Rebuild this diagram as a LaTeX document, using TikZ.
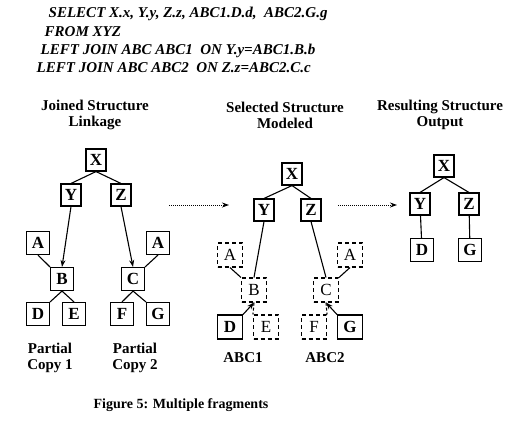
\documentclass[tikz,border=0pt]{standalone}
\usepackage{fontspec}
\setmainfont{Liberation Serif}
\usetikzlibrary{arrows.meta}

\begin{document}
\begin{tikzpicture}[x=1pt,y=-1pt,thick,
 box node/.style={draw,line width=1.1pt,inner sep=0pt,font=\fontsize{17}{17}\selectfont\bfseries,
   minimum width=23pt,minimum height=23pt},
 top node/.style={box node,minimum width=20pt,minimum height=22pt},
 ghost node/.style={box node,dashed,dash pattern=on 4pt off 3pt,font=\fontsize{17}{17}\selectfont,
   minimum width=25pt,minimum height=24pt},
 kept node/.style={box node,minimum width=25pt,minimum height=24pt},
 title/.style={font=\fontsize{15}{16}\selectfont\bfseries,align=center},
 query/.style={anchor=west,font=\fontsize{15}{15}\selectfont\bfseries\itshape},
 link/.style={line width=1.1pt},
 into/.style={link,-{Stealth[length=7pt,width=5pt]}},
 flow/.style={line width=1pt,dash pattern=on 1pt off 1pt,-{Stealth[length=7pt,width=5pt]}}]
 \useasboundingbox (0,0) rectangle (522,424);

  % query
  \node[query] (q1) at (45,14) {SELECT X.x, Y.y, Z.z, ABC1.D.d,\ \ ABC2.G.g};
  \node[query] (q2) at (41,32) {FROM XYZ};
  \node[query] (q3) at (37,51) {LEFT JOIN ABC ABC1\ \ ON Y.y=ABC1.B.b};
  \node[query] (q4) at (33,68) {LEFT JOIN ABC ABC2\ \ ON Z.z=ABC2.C.c};

  \node[title] (h1) at (95,115) {Joined Structure\\Linkage};
  \node[title] (h2) at (285,115) {Selected Structure\\Modeled};
  \node[title] (h3) at (440,115) {Resulting Structure\\Output};

  % joined
  \node[top node] (x1) at (96,160) {X};
  \node[top node] (y1) at (71,195) {Y};
  \node[top node] (z1) at (121,195) {Z};
  \node[box node] (a1) at (38,243) {A};
  \node[box node] (b1) at (62,279) {B};
  \node[box node] (a2) at (158,243) {A};
  \node[box node] (c1) at (133,279) {C};
  \node[box node] (d1) at (38,314) {D};
  \node[box node] (e1) at (74,314) {E};
  \node[box node] (f1) at (122,314) {F};
  \node[box node] (g1) at (158,314) {G};
  \node[title] (p1) at (50,358) {Partial\\Copy 1};
  \node[title] (p2) at (135,358) {Partial\\Copy 2};

  \foreach \s/\t in {x1.south/y1.north, x1.south/z1.north, a1.south/b1.north west,
    a2.south/c1.north east, b1.south/d1.north east, b1.south/e1.north,
    c1.south/f1.north, c1.south/g1.north west}
   \draw[link] (\s) -- (\t);
  \draw[into] (y1.south) -- (b1.north);
  \draw[into] (z1.south) -- (c1.north);

  % selected
  \node[top node] (x2) at (292,174) {X};
  \node[top node] (y2) at (264,210) {Y};
  \node[top node] (z2) at (311,210) {Z};
  \node[ghost node] (a3) at (230,255) {A};
  \node[ghost node] (b2) at (254,290) {B};
  \node[ghost node] (a4) at (350,255) {A};
  \node[ghost node] (c2) at (326,290) {C};
  \node[kept node] (d2) at (230,327) {D};
  \node[ghost node] (e2) at (266,327) {E};
  \node[ghost node] (f2) at (314,327) {F};
  \node[kept node] (g2) at (350,327) {G};
  \node[title] (l1) at (243,358) {ABC1};
  \node[title] (l2) at (325,358) {ABC2};

  \foreach \s/\t in {x2.south/y2.north, x2.south/z2.north, y2.south/b2.north,
    z2.south/c2.north, a3.south/b2.north west, a4.south/c2.north east}
   \draw[link] (\s) -- (\t);
  \draw[into] (d2.north east) -- (b2.south);
  \draw[into] (g2.north west) -- (c2.south);
  \draw[link,dashed,dash pattern=on 3pt off 2pt] (b2.south) -- (e2.north west);
  \draw[link,dashed,dash pattern=on 3pt off 2pt] (c2.south) -- (f2.north east);

  % result
  \node[top node] (x3) at (444,166) {X};
  \node[top node] (y3) at (420,204) {Y};
  \node[top node] (z3) at (469,204) {Z};
  \node[box node] (d3) at (422,250) {D};
  \node[box node] (g3) at (470,250) {G};

  \foreach \s/\t in {x3.south/y3.north, x3.south/z3.north, y3/d3, z3/g3}
   \draw[link] (\s) -- (\t);

  \coordinate (s1) at (169,205);
  \coordinate (t1) at (229,205);
  \coordinate (s2) at (338,205);
  \coordinate (t2) at (397,205);
  \draw[flow] (s1) -- (t1);
  \draw[flow] (s2) -- (t2);

  \node[title,font=\fontsize{14}{14}\selectfont\bfseries] (cap) at (181,405) {Figure 5: Multiple fragments};
\end{tikzpicture}
\end{document}
